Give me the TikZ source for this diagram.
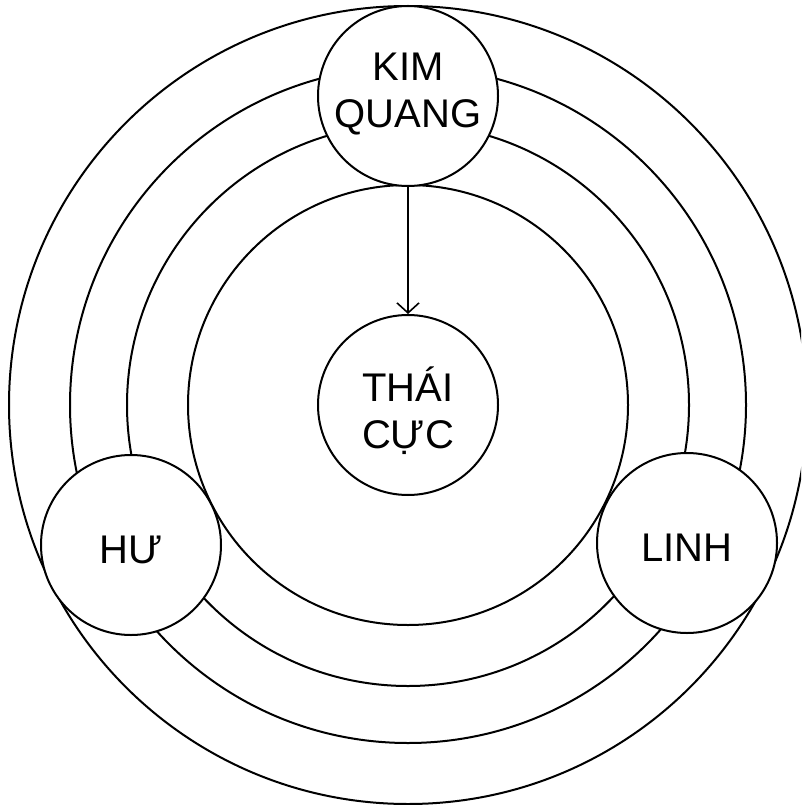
\documentclass[tikz,border=0pt]{standalone}
\usepackage{fontspec}
\setmainfont{Liberation Sans}
\usetikzlibrary{arrows.meta}
\begin{document}
\begin{tikzpicture}[x=1pt,y=-1pt,
  ring/.style={draw, line width=2pt},
  ball/.style={circle, draw, line width=2pt, fill=white, minimum size=180pt, inner sep=0pt},
  txt/.style={align=center, font=\fontsize{40}{47}\selectfont, inner sep=0pt},
  link/.style={draw, line width=1.6pt, -{Straight Barb[length=10pt,width=22pt,line width=1.6pt]}}]
\useasboundingbox (0,0) rectangle (801,805);
\clip (0,0) rectangle (801,805);
\coordinate (O) at (408,405);
\draw[ring] (O) circle[radius=399pt];
\draw[ring] (O) circle[radius=338pt];
\draw[ring] (O) circle[radius=281pt];
\draw[ring] (O) circle[radius=220pt];
\node[ball, label={[txt, name=kqt, yshift=2pt]center:KIM\\QUANG}] (kq) at (408,96) {};
\node[ball, label={[txt, name=tct, yshift=-6pt]center:THÁI\\CỰC}] (tc) at (408,405) {};
\node[ball, label={[txt, name=hut, yshift=-5pt]center:HƯ}] (hu) at (131,545) {};
\node[ball, label={[txt, name=linht, yshift=-4.5pt]center:LINH}] (linh) at (687,543) {};
\draw[link] (kq) -- (tc);
\end{tikzpicture}
\end{document}
